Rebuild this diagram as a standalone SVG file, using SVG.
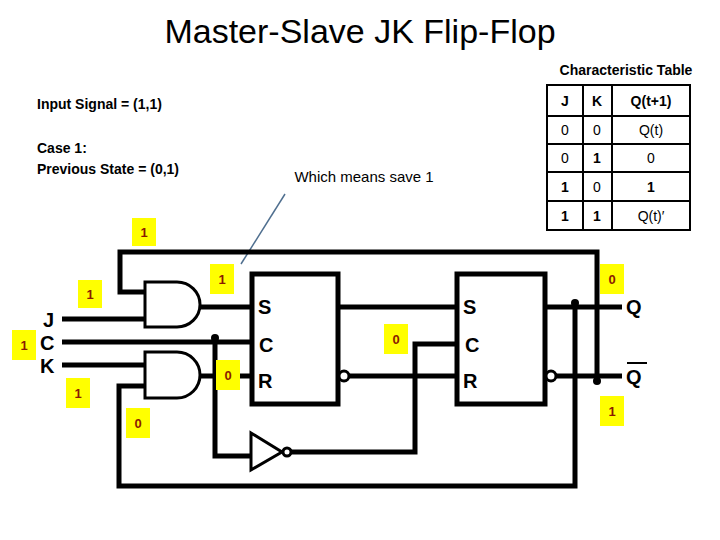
<svg xmlns="http://www.w3.org/2000/svg" width="720" height="540" viewBox="0 0 720 540">
<style>
.w{fill:none;stroke:#000;stroke-width:5}
.g{fill:#fff;stroke:#000;stroke-width:3}
.b{fill:#fff;stroke:#000;stroke-width:5}
.t{font-family:"Liberation Sans",Arial,sans-serif;fill:#000}
.p{font-family:"Liberation Sans",Arial,sans-serif;font-weight:bold;font-size:20px;fill:#000}
.y{fill:#ffff00}
.n{font-family:"Liberation Sans",Arial,sans-serif;font-weight:bold;font-size:13px;fill:#8b1a00;text-anchor:middle}
.c{font-family:"Liberation Sans",Arial,sans-serif;font-size:14px;fill:#000;text-anchor:middle}
.tl{fill:none;stroke:#000;stroke-width:2}
</style>
<rect width="720" height="540" fill="#fff"/>
<text class="t" x="360" y="43" font-size="34" text-anchor="middle">Master-Slave JK Flip-Flop</text>
<text class="t" x="37" y="109" font-size="14" font-weight="bold">Input Signal = (1,1)</text>
<text class="t" x="37" y="153" font-size="14" font-weight="bold">Case 1:</text>
<text class="t" x="37" y="174" font-size="14" font-weight="bold">Previous State = (0,1)</text>
<text class="t" x="364" y="182" font-size="15" text-anchor="middle">Which means save 1</text>
<line x1="241" y1="264" x2="285" y2="194" stroke="#4f6f8f" stroke-width="1.5"/>
<g id="table">
<text class="t" x="626" y="75" font-size="14" font-weight="bold" text-anchor="middle">Characteristic Table</text>
<rect class="tl" x="547" y="85" width="143" height="145"/>
<line class="tl" x1="583" y1="85" x2="583" y2="230"/><line class="tl" x1="612" y1="85" x2="612" y2="230"/>
<line class="tl" x1="547" y1="116" x2="690" y2="116"/><line class="tl" x1="547" y1="144" x2="690" y2="144"/>
<line class="tl" x1="547" y1="172" x2="690" y2="172"/><line class="tl" x1="547" y1="201" x2="690" y2="201"/>
<text class="c" x="565" y="106" font-weight="bold">J</text><text class="c" x="597" y="106" font-weight="bold">K</text><text class="c" x="651" y="106" font-weight="bold">Q(t+1)</text>
<text class="c" x="565" y="135">0</text><text class="c" x="597" y="135">0</text><text class="c" x="651" y="135">Q(t)</text>
<text class="c" x="565" y="163">0</text><text class="c" x="597" y="163" font-weight="bold">1</text><text class="c" x="651" y="163">0</text>
<text class="c" x="565" y="192" font-weight="bold">1</text><text class="c" x="597" y="192">0</text><text class="c" x="651" y="192" font-weight="bold">1</text>
<text class="c" x="565" y="221" font-weight="bold">1</text><text class="c" x="597" y="221" font-weight="bold">1</text><text class="c" x="651" y="221">Q(t)′</text>
</g>
<g id="connectors">
<polyline class="w" points="145,292 120,292 120,252 597,252 597,381"/>
<polyline class="w" points="145,386 119,386 119,486 575,486 575,303"/>
<line class="w" x1="62" y1="319" x2="145" y2="319"/>
<line class="w" x1="62" y1="342" x2="250" y2="342"/>
<line class="w" x1="62" y1="365" x2="145" y2="365"/>
<line class="w" x1="200" y1="307" x2="250" y2="307"/>
<line class="w" x1="200" y1="376" x2="250" y2="376"/>
<polyline class="w" points="215,337 215,456 250,456"/>
<polyline class="w" points="291,452 415,452 415,344 455,344"/>
<line class="w" x1="338" y1="307" x2="455" y2="307"/>
<line class="w" x1="348" y1="376" x2="455" y2="376"/>
<line class="w" x1="545" y1="307" x2="622" y2="307"/>
<line class="w" x1="556" y1="376" x2="622" y2="376"/>
<circle cx="215" cy="338" r="4"/><circle cx="575" cy="303" r="4"/><circle cx="597" cy="381" r="4"/>
</g>
<g id="and1"><path class="g" d="M145,282 H177 A23,22.5 0 0 1 177,327 H145 Z"/></g>
<g id="and2"><path class="g" d="M145,352 H177 A23,23 0 0 1 177,398 H145 Z"/></g>
<g id="not"><path class="g" d="M251,433 L282,452 L251,470 Z"/><circle class="g" cx="287" cy="452" r="4"/></g>
<g id="master"><rect class="b" x="252" y="274" width="86" height="130"/><text class="p" x="258" y="314">S</text><text class="p" x="259" y="352">C</text><text class="p" x="258" y="388">R</text><circle class="g" cx="344" cy="376" r="5"/></g>
<g id="slave"><rect class="b" x="457" y="274" width="88" height="130"/><text class="p" x="463" y="314">S</text><text class="p" x="465" y="352">C</text><text class="p" x="463" y="388">R</text><circle class="g" cx="551" cy="376" r="5"/></g>
<g id="labels">
<text class="p" x="43" y="327">J</text><text class="p" x="40" y="350">C</text><text class="p" x="40" y="373">K</text>
<text class="p" x="626" y="314">Q</text><text class="p" x="626" y="384">Q</text><line x1="627" y1="363" x2="647" y2="363" stroke="#000" stroke-width="2"/>
</g>
<g id="values">
<rect class="y" x="132" y="218" width="24" height="28"/><text class="n" x="144" y="237">1</text>
<rect class="y" x="78" y="280" width="24" height="28"/><text class="n" x="90" y="299">1</text>
<rect class="y" x="12" y="330" width="24" height="30"/><text class="n" x="24" y="350">1</text>
<rect class="y" x="66" y="378" width="24" height="30"/><text class="n" x="78" y="398">1</text>
<rect class="y" x="126" y="408" width="24" height="30"/><text class="n" x="138" y="428">0</text>
<rect class="y" x="210" y="264" width="24" height="30"/><text class="n" x="222" y="284">1</text>
<rect class="y" x="216" y="360" width="24" height="30"/><text class="n" x="228" y="380">0</text>
<rect class="y" x="384" y="324" width="24" height="30"/><text class="n" x="396" y="344">0</text>
<rect class="y" x="600" y="264" width="24" height="30"/><text class="n" x="612" y="284">0</text>
<rect class="y" x="600" y="396" width="24" height="30"/><text class="n" x="612" y="416">1</text>
</g>
</svg>
